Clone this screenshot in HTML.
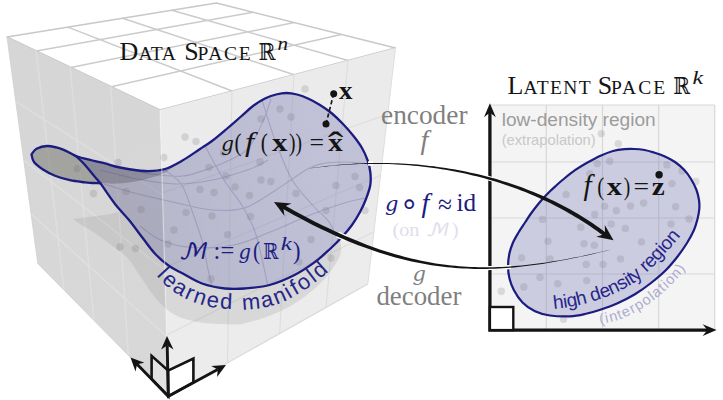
<!DOCTYPE html>
<html><head><meta charset="utf-8"><title>Data space and latent space</title>
<style>html,body{margin:0;padding:0;background:#fff}svg{display:block}text{white-space:pre}</style></head>
<body>
<svg width="723" height="400" viewBox="0 0 723 400">
<rect width="723" height="400" fill="#fff"/>
<defs>
<linearGradient id="gl" gradientUnits="userSpaceOnUse" x1="60" y1="80" x2="140" y2="370"><stop offset="0" stop-color="#d6d6d6"/><stop offset="1" stop-color="#d8d8d8"/></linearGradient>
<linearGradient id="gr" gradientUnits="userSpaceOnUse" x1="290" y1="80" x2="255" y2="350"><stop offset="0" stop-color="#ebebeb"/><stop offset="1" stop-color="#ececec"/></linearGradient>
<radialGradient id="fadeC" gradientUnits="userSpaceOnUse" cx="168.5" cy="398" r="38"><stop offset="0" stop-color="#fff" stop-opacity="0.8"/><stop offset="0.4" stop-color="#fff" stop-opacity="0.55"/><stop offset="1" stop-color="#fff" stop-opacity="0"/></radialGradient>
<linearGradient id="gm" gradientUnits="userSpaceOnUse" x1="110" y1="230" x2="350" y2="150"><stop offset="0.1" stop-color="#646490" stop-opacity="0.39"/><stop offset="0.35" stop-color="#6f6fa4" stop-opacity="0.40"/><stop offset="0.9" stop-color="#7171b0" stop-opacity="0.35"/></linearGradient>
</defs>
<polygon points="7,37 160,110 395.5,48 216.5,3" fill="#ffffff"/>
<path d="M36.4,51.1L253,12.2M67.9,27.1L232,91M70.8,67.4L294.3,22.6M122.5,18.2L294,74.7M111.4,86.8L341.3,34.4M171.8,10.3L348.1,60.5" fill="none" stroke="#cbcbcb" stroke-width="1.5"/>
<polygon points="7,37 160,110 395.5,48 216.5,3" fill="none" stroke="#c8c8c8" stroke-width="1.5" stroke-linejoin="round"/>
<polygon points="7,37 160,110 168.5,396 37.8,263.5" fill="url(#gl)"/>
<polygon points="160,110 395.5,48 367.8,284 168.5,396" fill="url(#gr)"/>
<path d="M36.1,50.9L64,290M15.7,101.3L162.5,195M70.2,67.2L93.9,320.3M23.7,160.1L164.8,270M110.8,86.5L128.3,355.3M31.1,213.9L166.7,336.5" fill="none" stroke="#ffffff" stroke-opacity="0.2" stroke-width="1.5"/>
<path d="M231.9,91.1L227.5,362.9M162.5,193L387.7,114.3M294,74.7L279.6,333.6M164.7,267.5L380.6,175.3M348,60.5L326.1,307.4M166.7,334.9L373.9,231.7" fill="none" stroke="#d2d2d2" stroke-opacity="0.55" stroke-width="1.1"/>
<path d="M7,37L37.8,263.5" fill="none" stroke="#cfcfcf" stroke-width="1" stroke-opacity="0.8"/>
<path d="M395.5,48L367.8,284" fill="none" stroke="#dcdcdc" stroke-width="1" stroke-opacity="0.9"/>
<path d="M37.8,263.5L168.5,396" fill="none" stroke="#cdcdcd" stroke-width="1" stroke-opacity="0.8"/>
<path d="M367.8,284L168.5,396" fill="none" stroke="#d6d6d6" stroke-width="1.2" stroke-opacity="0.9"/>
<clipPath id="cl"><polygon points="7,37 160,110 168.5,396 37.8,263.5"/></clipPath><clipPath id="cr"><polygon points="160,110 395.5,48 367.8,284 168.5,396"/></clipPath>
<path d="M73,219C76.2,218.6 85.8,217.3 92,216.5C98.2,215.7 105.2,214.9 110,214C114.8,213.1 119.2,211.5 121,211L121.5,211C122.8,212.5 125.5,215.5 129,220C132.5,224.5 138.2,232.2 142.5,237.8C146.8,243.3 150.4,248.8 154.8,253.5C159.1,258.2 164.1,262.4 168.8,265.8C173.4,269.1 177.2,270.6 182.8,273.6C188.3,276.6 195,281 202,283.5C209,286 217.8,287.7 225,288.5C232.2,289.3 237.6,289.1 245,288.5C252.4,287.9 261.4,287.2 269.6,285C277.9,282.8 287,278.8 294.5,275C302,271.2 308.1,267 314.4,262.4C320.6,257.8 327.7,251.4 332,247.5C336.3,243.6 338.7,240.4 340,239L340,239C340.2,241.2 341.8,247.7 341,252C340.2,256.3 337.8,260.5 335,265C332.2,269.5 328.2,274.8 324.5,279C320.8,283.2 317.1,286.5 313,290C308.9,293.5 305,296.7 300,300C295,303.3 288.8,307.1 283,310C277.2,312.9 270.5,315.5 265,317.5C259.5,319.5 254.2,320.8 250,322C245.8,323.2 241.7,324.1 240,324.5L240,324.5C236.3,324.4 225.3,324.5 218,324C210.7,323.5 203,323.1 196,321.7C189,320.3 182.3,318.9 176,315.5C169.7,312.1 164,307.6 158,301C152,294.4 145.1,283.2 140,276C134.9,268.8 133.3,263.9 127.5,258C121.7,252.1 110.8,244.9 105,240.5C99.2,236.1 96.7,234.2 92.5,231.5C88.3,228.8 83.2,226.1 80,224C76.8,221.9 74.2,219.8 73,219Z" fill="#000" fill-opacity="0.068" clip-path="url(#cl)"/>
<path d="M73,219C76.2,218.6 85.8,217.3 92,216.5C98.2,215.7 105.2,214.9 110,214C114.8,213.1 119.2,211.5 121,211L121.5,211C122.8,212.5 125.5,215.5 129,220C132.5,224.5 138.2,232.2 142.5,237.8C146.8,243.3 150.4,248.8 154.8,253.5C159.1,258.2 164.1,262.4 168.8,265.8C173.4,269.1 177.2,270.6 182.8,273.6C188.3,276.6 195,281 202,283.5C209,286 217.8,287.7 225,288.5C232.2,289.3 237.6,289.1 245,288.5C252.4,287.9 261.4,287.2 269.6,285C277.9,282.8 287,278.8 294.5,275C302,271.2 308.1,267 314.4,262.4C320.6,257.8 327.7,251.4 332,247.5C336.3,243.6 338.7,240.4 340,239L340,239C340.2,241.2 341.8,247.7 341,252C340.2,256.3 337.8,260.5 335,265C332.2,269.5 328.2,274.8 324.5,279C320.8,283.2 317.1,286.5 313,290C308.9,293.5 305,296.7 300,300C295,303.3 288.8,307.1 283,310C277.2,312.9 270.5,315.5 265,317.5C259.5,319.5 254.2,320.8 250,322C245.8,323.2 241.7,324.1 240,324.5L240,324.5C236.3,324.4 225.3,324.5 218,324C210.7,323.5 203,323.1 196,321.7C189,320.3 182.3,318.9 176,315.5C169.7,312.1 164,307.6 158,301C152,294.4 145.1,283.2 140,276C134.9,268.8 133.3,263.9 127.5,258C121.7,252.1 110.8,244.9 105,240.5C99.2,236.1 96.7,234.2 92.5,231.5C88.3,228.8 83.2,226.1 80,224C76.8,221.9 74.2,219.8 73,219Z" fill="#000" fill-opacity="0.082" clip-path="url(#cr)"/>
<clipPath id="cm"><path d="M31.5,154.5C32.3,153.5 33.8,150.1 36.5,148.7C39.2,147.3 43.2,145.9 47.5,146C51.8,146.1 57.8,147.6 62.5,149.3C67.2,151 71,154.1 76,156C81,157.9 87.7,159.3 92.5,160.5C97.3,161.7 100.4,162.2 105,163.4C109.6,164.6 113.3,166.2 120,167.5C126.7,168.8 137.5,170.8 145,171C152.5,171.2 158.8,170.8 165,169C171.2,167.2 176.7,163.8 182.5,160.5C188.3,157.2 195.1,152.2 200,149C204.9,145.8 207.7,144.2 212,141C216.3,137.8 221.2,133.6 226,129.5C230.8,125.4 236.5,120.4 241,116.5C245.5,112.6 249,109 253,106C257,103 261.2,100.4 265,98.5C268.8,96.6 272.4,95.4 276,94.5C279.6,93.6 283,93 286.5,93C290,93 293.4,93.6 297,94.5C300.6,95.4 304.2,96.8 308,98.5C311.8,100.2 316,102.5 320,105C324,107.5 328.2,110.3 332,113.5C335.8,116.7 339.4,120.2 343,124C346.6,127.8 350.3,132 353.5,136C356.7,140 359.7,144 362,148C364.3,152 366.1,156 367.5,160C368.9,164 369.8,167.8 370.3,172C370.8,176.2 371,180.5 370.3,185C369.6,189.5 367.7,194.5 366,199C364.3,203.5 362.3,207.7 360,212C357.7,216.3 355,220.8 352,225C349,229.2 345.7,233 342,237C338.3,241 334.6,244.8 330,249C325.4,253.2 320.3,258.1 314.4,262.4C308.5,266.7 302,271.2 294.5,275C287,278.8 277.9,282.8 269.6,285C261.4,287.2 252.4,287.9 245,288.5C237.6,289.1 232.2,289.3 225,288.5C217.8,287.7 209,286 202,283.5C195,281 188.3,276.6 182.8,273.6C177.2,270.6 173.4,269.1 168.8,265.8C164.1,262.4 159.1,258.2 154.8,253.5C150.4,248.8 146.8,243.3 142.5,237.8C138.2,232.2 133.6,225.6 129,220C124.4,214.4 119.8,210.1 115,204C110.2,197.9 102.9,186.8 100.5,183.3L100.5,183.3C99.1,183.2 94.6,183.2 92,183C89.4,182.8 88.7,182.9 85,182.4C81.3,181.9 75,181.3 70,180.2C65,179.1 59.5,177.5 55,175.7C50.5,173.9 46.5,171.8 43,169.5C39.5,167.2 35.9,164.5 34,162C32.1,159.5 31.9,155.8 31.5,154.5Z"/></clipPath>
<path d="M31.5,154.5C32.3,153.5 33.8,150.1 36.5,148.7C39.2,147.3 43.2,145.9 47.5,146C51.8,146.1 57.8,147.6 62.5,149.3C67.2,151 71,154.1 76,156C81,157.9 87.7,159.3 92.5,160.5C97.3,161.7 100.4,162.2 105,163.4C109.6,164.6 113.3,166.2 120,167.5C126.7,168.8 137.5,170.8 145,171C152.5,171.2 159.5,170.3 165,169C170.5,167.7 175.8,164 178,163L178,163C175.8,164.6 169.7,170 165,172.5C160.3,175 155,176.5 150,178C145,179.5 140.3,180.6 135,181.5C129.7,182.4 123.8,183.3 118,183.6C112.2,183.9 103.4,183.4 100.5,183.3L100.5,183.3C99.1,183.2 94.6,183.2 92,183C89.4,182.8 88.7,182.9 85,182.4C81.3,181.9 75,181.3 70,180.2C65,179.1 59.5,177.5 55,175.7C50.5,173.9 46.5,171.8 43,169.5C39.5,167.2 35.9,164.5 34,162C32.1,159.5 31.9,155.8 31.5,154.5Z" fill="#70706a" fill-opacity="0.50"/>
<path d="M74.5,155.3C74.8,155.4 73,155.1 76,156C79,156.9 87.7,159.3 92.5,160.5C97.3,161.7 100.4,162.2 105,163.4C109.6,164.6 113.3,166.2 120,167.5C126.7,168.8 137.5,170.8 145,171C152.5,171.2 158.8,170.8 165,169C171.2,167.2 176.7,163.8 182.5,160.5C188.3,157.2 195.1,152.2 200,149C204.9,145.8 207.7,144.2 212,141C216.3,137.8 221.2,133.6 226,129.5C230.8,125.4 236.5,120.4 241,116.5C245.5,112.6 249,109 253,106C257,103 261.2,100.4 265,98.5C268.8,96.6 272.4,95.4 276,94.5C279.6,93.6 283,93 286.5,93C290,93 293.4,93.6 297,94.5C300.6,95.4 304.2,96.8 308,98.5C311.8,100.2 316,102.5 320,105C324,107.5 328.2,110.3 332,113.5C335.8,116.7 339.4,120.2 343,124C346.6,127.8 350.3,132 353.5,136C356.7,140 359.7,144 362,148C364.3,152 366.1,156 367.5,160C368.9,164 369.8,167.8 370.3,172C370.8,176.2 371,180.5 370.3,185C369.6,189.5 367.7,194.5 366,199C364.3,203.5 362.3,207.7 360,212C357.7,216.3 355,220.8 352,225C349,229.2 345.7,233 342,237C338.3,241 334.6,244.8 330,249C325.4,253.2 320.3,258.1 314.4,262.4C308.5,266.7 302,271.2 294.5,275C287,278.8 277.9,282.8 269.6,285C261.4,287.2 252.4,287.9 245,288.5C237.6,289.1 232.2,289.3 225,288.5C217.8,287.7 209,286 202,283.5C195,281 188.3,276.6 182.8,273.6C177.2,270.6 173.4,269.1 168.8,265.8C164.1,262.4 159.1,258.2 154.8,253.5C150.4,248.8 146.8,243.3 142.5,237.8C138.2,232.2 133.6,225.6 129,220C124.4,214.4 119.8,210.1 115,204C110.2,197.9 102.9,186.8 100.5,183.3L100.5,183.3C99.2,181.8 95.1,177.1 92.5,174C89.9,170.9 87.4,167.7 85,165C82.6,162.3 79.8,159.6 78,158C76.2,156.4 75.1,155.8 74.5,155.3Z" fill="url(#gm)"/>
<g clip-path="url(#cm)"><path d="M118,167C123.7,168.2 141.2,172.5 152,174C162.8,175.5 173.7,176.7 182.5,176C191.3,175.3 196.4,173 205,170C213.6,167 226.5,162 234,158C241.5,154 245.2,152.1 250,146C254.8,139.9 259.5,129.3 263,121.5C266.5,113.7 269.7,102.8 271,99M100,170C106.2,171.5 125,176.7 137.5,179C150,181.3 162.5,183.8 175,184C187.5,184.2 200,182.5 212.5,180C225,177.5 240.8,172.3 250,169C259.2,165.7 265,161.5 268,160M104,184C108.8,185.4 120.7,189.4 132.5,192.5C144.3,195.6 161.6,199.6 175,202.5C188.4,205.4 201.4,209.1 213,210C224.6,210.9 234,211.3 244.5,208C255,204.7 265.5,196.5 276,190C286.5,183.5 299.7,173.4 307.5,169C315.3,164.6 316.8,164.7 323,163.5C329.2,162.3 337,161.9 345,162C353,162.1 366.7,163.7 371,164M140,226C143.4,228.3 151.8,236.4 160.5,240C169.2,243.6 179.8,246.7 192,247.5C204.2,248.3 220.9,247.6 234,245C247.1,242.4 258.6,236.6 270.8,231.8C283.1,227 295.2,220.8 307.5,216C319.8,211.2 334.2,206.1 344.3,203C354.4,199.9 364.1,198.6 368,197.7M205,146C208.1,151.6 217.3,169.4 223.5,179.3C229.7,189.2 236.8,196.8 242,205.5C247.2,214.2 251.5,222.2 255,231.8C258.5,241.4 260.8,254.1 263,263.3C265.2,272.5 267.2,283.1 268,287M262,100C264.2,106.7 270,126.8 275,140C280,153.2 285.5,168.4 291.8,179.3C298.1,190.2 306.7,198.5 312.8,205.5C318.9,212.5 324.7,216.1 328.6,221.3C332.5,226.6 334.3,233.4 336.4,237C338.5,240.6 340.2,242 341,243M165,170C167.8,172.4 177,177.7 181.5,184.5C186,191.3 188.5,201.2 192,210.8C195.5,220.4 199.9,232.7 202.5,242.3C205.1,251.9 206.2,261.3 207.8,268.6C209.4,275.9 211.3,283.1 212,286" fill="none" stroke="#34347a" stroke-opacity="0.2" stroke-width="1.1"/></g>
<g fill="#6a6a72" fill-opacity="0.20"><circle cx="77.3" cy="168.6" r="3.7"/><circle cx="93.5" cy="193.5" r="3.7"/><circle cx="185" cy="137" r="3.7"/><circle cx="196" cy="141.5" r="3.7"/><circle cx="163.8" cy="157.5" r="3.7"/><circle cx="118" cy="162.5" r="3.7"/><circle cx="209" cy="167.5" r="3.7"/><circle cx="226" cy="176" r="3.7"/><circle cx="235" cy="187" r="3.7"/><circle cx="200" cy="189.5" r="3.7"/><circle cx="214" cy="192.5" r="3.7"/><circle cx="126" cy="191.5" r="3.7"/><circle cx="186" cy="212.5" r="3.7"/><circle cx="212" cy="216" r="3.7"/><circle cx="141" cy="209.5" r="3.7"/><circle cx="249.5" cy="195.5" r="3.7"/><circle cx="223.5" cy="153" r="3.7"/><circle cx="260" cy="162" r="3.7"/><circle cx="261" cy="180" r="3.7"/><circle cx="270.8" cy="181.5" r="3.7"/><circle cx="296" cy="193.5" r="3.7"/><circle cx="336" cy="185.5" r="3.7"/><circle cx="355" cy="176.5" r="3.7"/><circle cx="359.5" cy="187.5" r="3.7"/><circle cx="326" cy="210.5" r="3.7"/><circle cx="365" cy="210.5" r="3.7"/><circle cx="250.5" cy="216.5" r="3.7"/><circle cx="311" cy="239.5" r="3.7"/><circle cx="280" cy="109" r="3.7"/><circle cx="261" cy="119" r="3.7"/><circle cx="291" cy="117" r="3.7"/><circle cx="305" cy="89" r="3.7"/><circle cx="174" cy="230" r="3.7"/><circle cx="168" cy="244" r="3.7"/><circle cx="227.6" cy="234.8" r="3.7"/><circle cx="211" cy="279" r="3.7"/><circle cx="299" cy="262" r="3.7"/><circle cx="120" cy="247" r="3.7"/><circle cx="135.5" cy="248.5" r="3.7"/><circle cx="331" cy="258" r="3.7"/></g>
<path d="M31.5,154.5C32.3,153.5 33.8,150.1 36.5,148.7C39.2,147.3 43.2,145.9 47.5,146C51.8,146.1 57.8,147.6 62.5,149.3C67.2,151 71,154.1 76,156C81,157.9 87.7,159.3 92.5,160.5C97.3,161.7 100.4,162.2 105,163.4C109.6,164.6 113.3,166.2 120,167.5C126.7,168.8 137.5,170.8 145,171C152.5,171.2 158.8,170.8 165,169C171.2,167.2 176.7,163.8 182.5,160.5C188.3,157.2 195.1,152.2 200,149C204.9,145.8 207.7,144.2 212,141C216.3,137.8 221.2,133.6 226,129.5C230.8,125.4 236.5,120.4 241,116.5C245.5,112.6 249,109 253,106C257,103 261.2,100.4 265,98.5C268.8,96.6 272.4,95.4 276,94.5C279.6,93.6 283,93 286.5,93C290,93 293.4,93.6 297,94.5C300.6,95.4 304.2,96.8 308,98.5C311.8,100.2 316,102.5 320,105C324,107.5 328.2,110.3 332,113.5C335.8,116.7 339.4,120.2 343,124C346.6,127.8 350.3,132 353.5,136C356.7,140 359.7,144 362,148C364.3,152 366.1,156 367.5,160C368.9,164 369.8,167.8 370.3,172C370.8,176.2 371,180.5 370.3,185C369.6,189.5 367.7,194.5 366,199C364.3,203.5 362.3,207.7 360,212C357.7,216.3 355,220.8 352,225C349,229.2 345.7,233 342,237C338.3,241 334.6,244.8 330,249C325.4,253.2 320.3,258.1 314.4,262.4C308.5,266.7 302,271.2 294.5,275C287,278.8 277.9,282.8 269.6,285C261.4,287.2 252.4,287.9 245,288.5C237.6,289.1 232.2,289.3 225,288.5C217.8,287.7 209,286 202,283.5C195,281 188.3,276.6 182.8,273.6C177.2,270.6 173.4,269.1 168.8,265.8C164.1,262.4 159.1,258.2 154.8,253.5C150.4,248.8 146.8,243.3 142.5,237.8C138.2,232.2 133.6,225.6 129,220C124.4,214.4 119.8,210.1 115,204C110.2,197.9 102.9,186.8 100.5,183.3L100.5,183.3C99.1,183.2 94.6,183.2 92,183C89.4,182.8 88.7,182.9 85,182.4C81.3,181.9 75,181.3 70,180.2C65,179.1 59.5,177.5 55,175.7C50.5,173.9 46.5,171.8 43,169.5C39.5,167.2 35.9,164.5 34,162C32.1,159.5 31.9,155.8 31.5,154.5Z" fill="none" stroke="#1b1b80" stroke-width="2.3" stroke-linejoin="round"/>
<path d="M100.5,183.3C99.2,181.8 95.1,177.1 92.5,174C89.9,170.9 87.4,167.7 85,165C82.6,162.3 79.8,159.6 78,158C76.2,156.4 75.1,155.8 74.5,155.3" fill="none" stroke="#1b1b80" stroke-width="2.3" stroke-linecap="round"/>
<path d="M160,110L168.5,396" fill="none" stroke="#f6f6f6" stroke-width="1.2" stroke-opacity="0.5"/>
<polygon points="168.3,396.3 151.6,379 151.6,355.8 168.1,370.5" fill="#e2e2e2" stroke="#141414" stroke-width="2.6" stroke-linejoin="miter"/>
<polygon points="168.3,396.3 193.4,382.3 193.4,358.6 168.1,370.5" fill="#ffffff" stroke="#141414" stroke-width="2.6" stroke-linejoin="miter"/>
<path d="M168.3,396.3L167.2,345.4" stroke="#141414" stroke-width="2.9" fill="none"/><path d="M167,336L173.5,349.4L167.2,345.4L161.1,349.6Z" fill="#141414"/>
<path d="M168.3,396.3L137.1,364.3" stroke="#141414" stroke-width="2.9" fill="none"/><path d="M130.5,357.5L144.4,362.8L137.1,364.3L135.5,371.5Z" fill="#141414"/>
<path d="M168.3,396.3L217.7,369.5" stroke="#141414" stroke-width="2.9" fill="none"/><path d="M226,365L217.1,376.9L217.7,369.5L211.2,366Z" fill="#141414"/>
<rect x="490.5" y="105" width="224.2" height="224.5" fill="#f4f4f4"/>
<path d="M546.3,105L546.3,329.5M602.5,105L602.5,329.5M658.7,105L658.7,329.5M714.7,105L714.7,329.5M490.5,105L714.7,105M490.5,162L714.7,162M490.5,218L714.7,218M490.5,274L714.7,274" fill="none" stroke="#d8d8d8" stroke-width="1.2"/>
<path d="M508,266.5C508,262.4 508.5,257.9 509.3,254C510.1,250.1 511.3,246.6 512.8,243C514.3,239.4 516.5,235.9 518.5,232.5C520.5,229.1 522.9,225.7 525,222.5C527.1,219.3 528.9,216.4 531,213.5C533.1,210.6 535.4,207.6 537.5,205C539.6,202.4 541.4,200.3 543.5,198C545.6,195.7 547.9,193.4 550,191.3C552.1,189.2 553.9,187.6 556,185.7C558.1,183.8 559.3,182.6 562.5,180C565.7,177.4 570.8,173.1 575,170.2C579.2,167.3 583.2,164.9 587.5,162.5C591.8,160.1 596.2,157.6 600.5,155.7C604.8,153.8 609,152.1 613,151C617,149.9 621.1,149.5 624.6,149.2C628.1,148.9 630.7,148.9 634,149C637.3,149.1 641.2,149.4 644.5,150C647.8,150.6 650.7,151.5 654,152.5C657.3,153.5 660.9,154.6 664.4,156.2C667.9,157.8 671.7,159.7 675,162C678.3,164.3 681.6,167.2 684.3,170C687,172.8 689,175.7 691,179C693,182.3 695.2,186.5 696.5,190C697.8,193.5 698.5,196.8 699,200C699.5,203.2 699.5,205.8 699.3,209C699,212.2 698.4,215.5 697.5,219C696.6,222.5 695.8,226 694,230C692.2,234 689.7,238.7 687,243C684.3,247.3 681.5,251.5 678,256C674.5,260.5 670.5,265.5 666,270C661.5,274.5 656.2,278.9 651,283C645.8,287.1 640.2,291.1 634.5,294.5C628.8,297.9 622.8,300.9 617,303.5C611.2,306.1 604.8,308.2 599.5,310C594.2,311.8 589.9,312.9 585,314C580.1,315.1 575.8,316.1 570,316.3C564.2,316.6 555.8,316.3 550,315.5C544.2,314.7 539.6,313.5 535,311.3C530.4,309.1 526,306.1 522.5,302.5C519,298.9 515.9,294 513.8,290C511.6,286 510.5,282.4 509.5,278.5C508.5,274.6 508,270.6 508,266.5Z" fill="#7272b4" fill-opacity="0.30"/>
<g fill="#6a6a72" fill-opacity="0.20"><circle cx="601.3" cy="133.6" r="3.7"/><circle cx="618.3" cy="143.7" r="3.7"/><circle cx="597.2" cy="163.6" r="3.7"/><circle cx="609.7" cy="161.2" r="3.7"/><circle cx="589.7" cy="173.6" r="3.7"/><circle cx="666.9" cy="164.9" r="3.7"/><circle cx="671.9" cy="183.6" r="3.7"/><circle cx="682" cy="171" r="3.7"/><circle cx="695.9" cy="181.5" r="3.7"/><circle cx="566.1" cy="194.4" r="3.7"/><circle cx="604.6" cy="206.3" r="3.7"/><circle cx="616.3" cy="210.7" r="3.7"/><circle cx="630.5" cy="206" r="3.7"/><circle cx="643.6" cy="203" r="3.7"/><circle cx="675.6" cy="206.7" r="3.7"/><circle cx="594.7" cy="214.5" r="3.7"/><circle cx="542.5" cy="219.4" r="3.7"/><circle cx="580.8" cy="227.3" r="3.7"/><circle cx="611.2" cy="223.9" r="3.7"/><circle cx="625.3" cy="228.4" r="3.7"/><circle cx="641.5" cy="241.9" r="3.7"/><circle cx="548" cy="241.2" r="3.7"/><circle cx="584" cy="243.7" r="3.7"/><circle cx="594.3" cy="245.3" r="3.7"/><circle cx="521.6" cy="257.8" r="3.7"/><circle cx="550" cy="258.9" r="3.7"/><circle cx="586.2" cy="264.4" r="3.7"/><circle cx="603" cy="264.4" r="3.7"/><circle cx="620.5" cy="258.9" r="3.7"/><circle cx="540" cy="277.4" r="3.7"/><circle cx="523.8" cy="287" r="3.7"/><circle cx="557.7" cy="283.8" r="3.7"/><circle cx="586.7" cy="280.6" r="3.7"/><circle cx="501.3" cy="291.2" r="3.7"/><circle cx="563.5" cy="319.3" r="3.7"/><circle cx="671" cy="224" r="3.7"/><circle cx="689" cy="219" r="3.7"/></g>
<path d="M508,266.5C508,262.4 508.5,257.9 509.3,254C510.1,250.1 511.3,246.6 512.8,243C514.3,239.4 516.5,235.9 518.5,232.5C520.5,229.1 522.9,225.7 525,222.5C527.1,219.3 528.9,216.4 531,213.5C533.1,210.6 535.4,207.6 537.5,205C539.6,202.4 541.4,200.3 543.5,198C545.6,195.7 547.9,193.4 550,191.3C552.1,189.2 553.9,187.6 556,185.7C558.1,183.8 559.3,182.6 562.5,180C565.7,177.4 570.8,173.1 575,170.2C579.2,167.3 583.2,164.9 587.5,162.5C591.8,160.1 596.2,157.6 600.5,155.7C604.8,153.8 609,152.1 613,151C617,149.9 621.1,149.5 624.6,149.2C628.1,148.9 630.7,148.9 634,149C637.3,149.1 641.2,149.4 644.5,150C647.8,150.6 650.7,151.5 654,152.5C657.3,153.5 660.9,154.6 664.4,156.2C667.9,157.8 671.7,159.7 675,162C678.3,164.3 681.6,167.2 684.3,170C687,172.8 689,175.7 691,179C693,182.3 695.2,186.5 696.5,190C697.8,193.5 698.5,196.8 699,200C699.5,203.2 699.5,205.8 699.3,209C699,212.2 698.4,215.5 697.5,219C696.6,222.5 695.8,226 694,230C692.2,234 689.7,238.7 687,243C684.3,247.3 681.5,251.5 678,256C674.5,260.5 670.5,265.5 666,270C661.5,274.5 656.2,278.9 651,283C645.8,287.1 640.2,291.1 634.5,294.5C628.8,297.9 622.8,300.9 617,303.5C611.2,306.1 604.8,308.2 599.5,310C594.2,311.8 589.9,312.9 585,314C580.1,315.1 575.8,316.1 570,316.3C564.2,316.6 555.8,316.3 550,315.5C544.2,314.7 539.6,313.5 535,311.3C530.4,309.1 526,306.1 522.5,302.5C519,298.9 515.9,294 513.8,290C511.6,286 510.5,282.4 509.5,278.5C508.5,274.6 508,270.6 508,266.5Z" fill="none" stroke="#1b1b80" stroke-width="2.2"/>
<path d="M489.9,112V330.1H708" fill="none" stroke="#141414" stroke-width="3.3" stroke-linejoin="miter"/>
<path d="M489.9,103.3L495.8,117.3L489.9,112.5L484,117.3Z" fill="#141414"/>
<path d="M716.6,330.1L702.6,336L707.4,330.1L702.6,324.2Z" fill="#141414"/>
<rect x="489.9" y="307" width="23.4" height="23.1" fill="#fff" stroke="#141414" stroke-width="2.4"/>
<path d="M368,163.5L368.6,163.5L369.1,163.5L369.7,163.5L370.2,163.5L370.8,163.5L371.3,163.5L371.9,163.5L372.4,163.5L373,163.5M487.6,178L488.1,178.1L488.6,178.2L489.1,178.4L489.6,178.5L490.1,178.7L490.6,178.8L491.1,178.9L491.6,179.1L492.1,179.2L492.6,179.4L493,179.5" fill="none" stroke="#fff" stroke-width="4.6"/>
<path d="M309,168.6L313.3,168L317.5,167.4L321.8,166.9L326,166.4L330.2,166L334.5,165.6L338.7,165.3L342.9,164.9L347.1,164.7L351.3,164.4L355.6,164.2L359.7,164.1L363.9,164L368.1,163.9L372.3,163.9L376.5,163.9L380.6,163.9L384.7,164L388.9,164.1L393,164.3L397.1,164.5L401.2,164.7L405.3,165L409.4,165.3L413.5,165.7L417.5,166L421.6,166.5L425.6,166.9L429.6,167.4L433.6,168L437.6,168.5L441.6,169.2L445.6,169.8L449.5,170.5L453.4,171.2L457.3,172L461.2,172.8L465.1,173.6L469,174.5L472.8,175.4L476.7,176.3L480.5,177.3L484.3,178.3L488.1,179.4L491.8,180.5L495.5,181.6L499.3,182.7L503,183.9L506.6,185.2L510.3,186.4L513.9,187.7L517.5,189.1L521.1,190.4L524.7,191.8L528.2,193.3L531.8,194.7L535.3,196.2L538.7,197.8L542.2,199.4L545.6,201L549,202.6L552.4,204.3L555.7,206L559.1,207.7L562.4,209.5L565.6,211.3L568.9,213.2L572.1,215L575.3,216.9L578.5,218.8L581.6,220.8L584.8,222.8L587.9,224.8L590.9,226.8L594,228.9L597,231L599.9,233.2L602.9,235.3L605.8,237.6L608.2,234.4L605.2,232.2L602.2,230L599.2,227.8L596.2,225.7L593.1,223.6L590,221.5L586.9,219.5L583.7,217.5L580.5,215.5L577.3,213.6L574.1,211.7L570.8,209.8L567.5,208L564.1,206.2L560.8,204.5L557.4,202.8L554,201.1L550.5,199.4L547.1,197.8L543.6,196.3L540.1,194.7L536.5,193.3L533,191.8L529.4,190.4L525.8,189L522.2,187.6L518.5,186.3L514.9,185L511.2,183.8L507.5,182.5L503.8,181.4L500,180.2L496.3,179.1L492.5,178L488.7,177L484.9,176L481.1,175L477.2,174.1L473.3,173.2L469.5,172.4L465.6,171.6L461.7,170.8L457.7,170L453.8,169.3L449.8,168.7L445.8,168L441.9,167.4L437.9,166.9L433.8,166.3L429.8,165.9L425.8,165.4L421.7,165L417.7,164.6L413.6,164.3L409.5,164L405.4,163.7L401.3,163.5L397.2,163.3L393.1,163.2L388.9,163.1L384.8,163L380.6,163L376.5,163L372.3,163.1L368.1,163.1L363.9,163.3L359.7,163.4L355.5,163.6L351.3,163.9L347.1,164.2L342.9,164.5L338.7,164.8L334.4,165.2L330.2,165.7L326,166.1L321.7,166.7L317.5,167.2L313.2,167.8L309,168.4Z" fill="#141414"/>
<path d="M613.5,240.3L596.3,236.7L605,234.1L604.8,225.1Z" fill="#141414"/>
<path d="M493.3,267.9L492.8,268L492.3,268L491.7,268L491.2,268L490.7,268L490.2,268L489.7,268L489.2,268L488.7,268.1L488.1,268.1L487.6,268.1M511,267L510.5,267L509.9,267.1L509.4,267.1L508.9,267.2L508.4,267.2L507.9,267.2L507.3,267.3L506.8,267.3L506.3,267.3" fill="none" stroke="#fff" stroke-width="4.2"/>
<path d="M345.7,238.1L345.1,237.9L344.5,237.6L343.9,237.4L343.4,237.1L342.8,236.9L342.2,236.6L341.6,236.4L341,236.1L340.5,235.8L339.9,235.6L339.3,235.3L338.7,235.1L338.1,234.8L337.5,234.5" fill="none" stroke="#fff" stroke-width="6.4"/>
<path d="M611.5,249.4L606.9,250.5L602.3,251.6L597.8,252.6L593.4,253.6L588.9,254.6L584.5,255.5L580.2,256.4L575.8,257.3L571.5,258.1L567.2,258.9L563,259.7L558.8,260.4L554.6,261.1L550.4,261.8L546.3,262.4L542.1,263L538,263.6L534,264.1L529.9,264.6L525.9,265L521.9,265.5L517.9,265.8L513.9,266.1L509.9,266.4L506,266.7L502,266.9L498.1,267L494.2,267.2L490.2,267.2L486.3,267.3L482.4,267.2L478.5,267.2L474.7,267.1L470.8,266.9L466.9,266.7L463,266.5L459.1,266.2L455.3,265.8L451.4,265.5L447.5,265L443.6,264.5L439.7,264L435.8,263.4L431.9,262.7L428,262L424,261.3L420.1,260.5L416.1,259.6L412.2,258.7L408.2,257.7L404.2,256.7L400.2,255.6L396.2,254.5L392.1,253.3L388,252L383.9,250.7L379.8,249.4L375.7,247.9L371.5,246.4L367.3,244.9L363.1,243.3L358.9,241.6L354.6,239.8L350.3,238L345.9,236.2L341.6,234.2L337.1,232.2L332.7,230.2L328.2,228.1L323.7,225.9L319.1,223.7L314.5,221.4L309.8,219L305.1,216.6L300.4,214.1L295.6,211.5L290.8,208.8L285.9,206.1L281,203.3L279,206.7L284,209.5L288.9,212.2L293.7,214.9L298.6,217.5L303.3,220L308,222.5L312.7,224.9L317.4,227.2L322,229.4L326.5,231.6L331.1,233.7L335.5,235.8L340,237.7L344.4,239.6L348.8,241.5L353.2,243.2L357.5,244.9L361.9,246.5L366.1,248.1L370.4,249.6L374.6,251.1L378.8,252.4L383,253.8L387.1,255L391.2,256.2L395.3,257.4L399.4,258.5L403.5,259.5L407.5,260.5L411.6,261.4L415.6,262.3L419.6,263.1L423.6,263.8L427.5,264.5L431.5,265.2L435.4,265.7L439.4,266.3L443.3,266.8L447.2,267.2L451.2,267.6L455.1,267.9L459,268.2L462.9,268.5L466.8,268.6L470.7,268.8L474.6,268.9L478.5,268.9L482.4,268.9L486.4,268.9L490.3,268.8L494.2,268.7L498.1,268.5L502.1,268.3L506,268L510,267.7L514,267.4L518,267L522,266.6L526,266.1L530,265.6L534.1,265.1L538.2,264.5L542.3,263.9L546.4,263.2L550.5,262.6L554.7,261.8L558.9,261.1L563.1,260.3L567.3,259.5L571.6,258.6L575.9,257.7L580.2,256.8L584.6,255.9L589,254.9L593.4,253.9L597.9,252.8L602.4,251.8L606.9,250.7L611.5,249.6Z" fill="#141414"/>
<path d="M274,202L291.5,203.5L283.2,207.1L284.5,216.1Z" fill="#141414"/>
<path id="tp1" d="M150,268C151.1,269.4 153.7,273 156.8,276.3C159.9,279.6 164.6,284.8 168.5,288C172.4,291.2 176.8,293.6 180.5,295.8C184.2,298 187.4,299.5 191,301C194.6,302.5 198.1,303.8 202,304.9C205.9,306 210.3,307 214.4,307.6C218.5,308.2 220.7,308.5 226.3,308.8C231.9,309.1 241.6,309.6 247.8,309.4C254,309.2 258.6,308.5 263.5,307.6C268.4,306.7 273.4,305.3 277.5,304C281.6,302.7 285.1,301.1 288,299.7C290.9,298.3 292.1,297.4 295,295.8C297.9,294.2 302,292 305.3,289.8C308.6,287.6 311.7,285.2 315,282.6C318.3,280.1 322,277.3 325.2,274.5C328.4,271.7 331.2,269.1 334,266C336.8,262.9 340.7,257.7 342,256" fill="none"/>
<path id="tp2" d="M549,309.5C550.1,309.4 552,309.3 555.5,308.9C559,308.5 564.7,307.9 570,306.9C575.3,305.9 580.7,305 587.5,303C594.3,301 603.4,298.2 611,295C618.6,291.8 627.8,286.7 633,283.6C638.2,280.5 638.9,279.2 642.3,276.3C645.7,273.4 649.5,270.1 653.3,266.2C657.1,262.3 661,258 665.3,253.2C669.6,248.4 675,242.8 679.3,237.4C683.6,232 689,223.7 691,221" fill="none"/>
<path id="tp3" d="M596,325C596.8,324.8 596.8,325 601,324C605.2,323 614.3,321.5 621,319C627.7,316.5 634.7,312.8 641,309C647.3,305.2 653.5,300.5 659,296C664.5,291.5 669.7,286.5 674,282C678.3,277.5 681.8,273.2 685,269C688.2,264.8 690.7,260.8 693,257C695.3,253.2 698,247.8 699,246" fill="none"/>
<path d="M333.7,93.7L326,124" stroke="#1a1a1a" stroke-width="1.7" stroke-dasharray="4.2 2.6" fill="none"/>
<circle cx="333.7" cy="93.7" r="3.5" fill="#141414"/><circle cx="326" cy="124" r="3.5" fill="#141414"/>
<circle cx="659.1" cy="174.7" r="3.7" fill="#141414"/>
<text x="119.6" y="60" style="font-family:'Liberation Serif','DejaVu Serif',serif;font-size:26px" fill="#141414">D<tspan style="font-size:19.5px;letter-spacing:0.5px">ATA</tspan> <tspan dx="1.5">S</tspan><tspan style="font-size:19.5px;letter-spacing:1.7px" dx="-1.2">PACE</tspan></text>
<text x="257.8" y="60.3" style="font-family:'DejaVu Math TeX Gyre','DejaVu Sans','DejaVu Serif',serif;font-size:23px;" fill="#141414" textLength="19.4" lengthAdjust="spacingAndGlyphs">ℝ</text>
<text x="277.5" y="49.7" style="font-family:'Liberation Serif','DejaVu Serif',serif;font-size:19px;font-style:italic" fill="#141414" textLength="10.5" lengthAdjust="spacingAndGlyphs">n</text>
<text x="507.5" y="94" style="font-family:'Liberation Serif','DejaVu Serif',serif;font-size:26px" fill="#141414">L<tspan style="font-size:19.5px;letter-spacing:1.4px">ATENT</tspan> <tspan dx="-1">S</tspan><tspan style="font-size:19.5px;letter-spacing:2.1px" dx="-1.2">PACE</tspan></text>
<text x="672.5" y="94.3" style="font-family:'DejaVu Math TeX Gyre','DejaVu Sans','DejaVu Serif',serif;font-size:23px;" fill="#141414" textLength="19.2" lengthAdjust="spacingAndGlyphs">ℝ</text>
<text x="692.5" y="84" style="font-family:'Liberation Serif','DejaVu Serif',serif;font-size:19px;font-style:italic" fill="#141414" textLength="10.5" lengthAdjust="spacingAndGlyphs">k</text>
<text x="381" y="124" style="font-family:'Liberation Serif','DejaVu Serif',serif;font-size:26.5px;" fill="#7f7f7f" textLength="86.5" lengthAdjust="spacingAndGlyphs">encoder</text>
<text x="420.5" y="149.3" style="font-family:'Liberation Serif','DejaVu Serif',serif;font-size:28px;font-style:italic" fill="#7f7f7f">f</text>
<text x="376.4" y="305" style="font-family:'Liberation Serif','DejaVu Serif',serif;font-size:26.5px;" fill="#7f7f7f" textLength="85" lengthAdjust="spacingAndGlyphs">decoder</text>
<text x="412.5" y="280.5" style="font-family:'DejaVu Serif',serif;font-size:21px;font-style:italic" fill="#7f7f7f">g</text>
<text x="385" y="210.6" style="font-family:'DejaVu Serif',serif;font-size:21px;font-style:italic" fill="#1b1b80">g</text>
<text x="402.3" y="212" style="font-family:'DejaVu Math TeX Gyre','DejaVu Sans','DejaVu Serif',serif;font-size:28px;" fill="#1b1b80">∘</text>
<text x="421.4" y="211.5" style="font-family:'Liberation Serif','DejaVu Serif',serif;font-size:28px;font-style:italic" fill="#1b1b80">f</text>
<text x="438" y="213" style="font-family:'Liberation Serif','DejaVu Serif',serif;font-size:26px;" fill="#1b1b80" textLength="14" lengthAdjust="spacingAndGlyphs">≈</text>
<text x="456.6" y="210.6" style="font-family:'Liberation Serif','DejaVu Serif',serif;font-size:25.5px;" fill="#1b1b80" textLength="19.6" lengthAdjust="spacingAndGlyphs">id</text>
<text x="392.5" y="235.5" style="font-family:'Liberation Serif','DejaVu Serif',serif;font-size:19.5px;" fill="#dedeea" textLength="27" lengthAdjust="spacingAndGlyphs">(on</text>
<text x="426" y="235.5" style="font-family:'DejaVu Math TeX Gyre','DejaVu Sans','DejaVu Serif',serif;font-size:17.5px;" fill="#dedeea" textLength="24" lengthAdjust="spacingAndGlyphs">ℳ</text>
<text x="452" y="235.5" style="font-family:'Liberation Serif','DejaVu Serif',serif;font-size:19.5px;" fill="#dedeea">)</text>
<text x="221" y="150.5" style="font-family:'DejaVu Serif',serif;font-size:21px;font-style:italic" fill="#141414" textLength="13" lengthAdjust="spacingAndGlyphs">g</text>
<text x="234.5" y="150.5" style="font-family:'Liberation Serif','DejaVu Serif',serif;font-size:26px;" fill="#141414" textLength="7" lengthAdjust="spacingAndGlyphs">(</text>
<text x="245" y="150.5" style="font-family:'Liberation Serif','DejaVu Serif',serif;font-size:28px;font-style:italic" fill="#141414" textLength="9.1" lengthAdjust="spacingAndGlyphs">f</text>
<text x="260.8" y="150.5" style="font-family:'Liberation Serif','DejaVu Serif',serif;font-size:26px;" fill="#141414" textLength="7" lengthAdjust="spacingAndGlyphs">(</text>
<text x="272" y="150.5" style="font-family:'Liberation Serif','DejaVu Serif',serif;font-size:26px;font-weight:bold" fill="#141414" textLength="15.5" lengthAdjust="spacingAndGlyphs">x</text>
<text x="289" y="150.5" style="font-family:'Liberation Serif','DejaVu Serif',serif;font-size:26px;" fill="#141414" textLength="6.5" lengthAdjust="spacingAndGlyphs">)</text>
<text x="295.5" y="150.5" style="font-family:'Liberation Serif','DejaVu Serif',serif;font-size:26px;" fill="#141414" textLength="6.5" lengthAdjust="spacingAndGlyphs">)</text>
<text x="309.5" y="150.5" style="font-family:'Liberation Serif','DejaVu Serif',serif;font-size:26px;" fill="#141414" textLength="14.5" lengthAdjust="spacingAndGlyphs">=</text>
<text x="328.3" y="150.5" style="font-family:'Liberation Serif','DejaVu Serif',serif;font-size:26px;font-weight:bold" fill="#141414" textLength="14.5" lengthAdjust="spacingAndGlyphs">x</text>
<text x="339" y="99" style="font-family:'Liberation Serif','DejaVu Serif',serif;font-size:25px;font-weight:bold" fill="#141414" textLength="13.5" lengthAdjust="spacingAndGlyphs">x</text>
<text x="178.8" y="258.9" style="font-family:'DejaVu Math TeX Gyre','DejaVu Sans','DejaVu Serif',serif;font-size:22px;" fill="#1b1b80" textLength="30" lengthAdjust="spacingAndGlyphs">ℳ</text>
<text x="213.6" y="258.9" style="font-family:'Liberation Serif','DejaVu Serif',serif;font-size:25px;" fill="#1b1b80" textLength="20.6" lengthAdjust="spacingAndGlyphs">:=</text>
<text x="238.5" y="258.7" style="font-family:'DejaVu Serif',serif;font-size:20.5px;font-style:italic" fill="#1b1b80" textLength="12.5" lengthAdjust="spacingAndGlyphs">g</text>
<text x="253" y="258.7" style="font-family:'Liberation Serif','DejaVu Serif',serif;font-size:25px;" fill="#1b1b80" textLength="7" lengthAdjust="spacingAndGlyphs">(</text>
<text x="262.6" y="258.9" style="font-family:'DejaVu Math TeX Gyre','DejaVu Sans','DejaVu Serif',serif;font-size:22px;" fill="#1b1b80" textLength="17.4" lengthAdjust="spacingAndGlyphs">ℝ</text>
<text x="280.8" y="250" style="font-family:'Liberation Serif','DejaVu Serif',serif;font-size:19px;font-style:italic" fill="#1b1b80" textLength="11" lengthAdjust="spacingAndGlyphs">k</text>
<text x="293" y="258.7" style="font-family:'Liberation Serif','DejaVu Serif',serif;font-size:25px;" fill="#1b1b80" textLength="7.5" lengthAdjust="spacingAndGlyphs">)</text>
<text x="583.4" y="195.3" style="font-family:'Liberation Serif','DejaVu Serif',serif;font-size:29px;font-style:italic" fill="#141414">f</text>
<text x="597.3" y="195.3" style="font-family:'Liberation Serif','DejaVu Serif',serif;font-size:26px;" fill="#141414" textLength="7" lengthAdjust="spacingAndGlyphs">(</text>
<text x="606.7" y="195.3" style="font-family:'Liberation Serif','DejaVu Serif',serif;font-size:26px;font-weight:bold" fill="#141414" textLength="15.3" lengthAdjust="spacingAndGlyphs">x</text>
<text x="623.8" y="195.3" style="font-family:'Liberation Serif','DejaVu Serif',serif;font-size:26px;" fill="#141414" textLength="6.5" lengthAdjust="spacingAndGlyphs">)</text>
<text x="633.6" y="195.3" style="font-family:'Liberation Serif','DejaVu Serif',serif;font-size:26px;" fill="#141414" textLength="15.6" lengthAdjust="spacingAndGlyphs">=</text>
<text x="651.8" y="195.3" style="font-family:'Liberation Serif','DejaVu Serif',serif;font-size:26px;font-weight:bold" fill="#141414" textLength="13" lengthAdjust="spacingAndGlyphs">z</text>
<text x="501.7" y="126.2" style="font-family:'Liberation Sans','DejaVu Sans',sans-serif;font-size:17.5px;" fill="#9c9c9c" textLength="154" lengthAdjust="spacingAndGlyphs">low-density region</text>
<text x="501.7" y="144.8" style="font-family:'Liberation Sans','DejaVu Sans',sans-serif;font-size:14.3px;" fill="#c8c8c8" textLength="94" lengthAdjust="spacingAndGlyphs">(extrapolation)</text>
<text style="font-family:'Liberation Sans','DejaVu Sans',sans-serif;font-size:22px;letter-spacing:2px" fill="#26268a"><textPath href="#tp1" startOffset="10">learned manifold</textPath></text>
<text style="font-family:'Liberation Sans','DejaVu Sans',sans-serif;font-size:19px;letter-spacing:-0.45px" fill="#26268a"><textPath href="#tp2" startOffset="5">high density region</textPath></text>
<text style="font-family:'Liberation Sans','DejaVu Sans',sans-serif;font-size:14.5px;letter-spacing:1.1px" fill="#ababcf"><textPath href="#tp3" startOffset="4.5">(interpolation)</textPath></text>
<text transform="translate(327.7,157.7) scale(1.8,1.45)" x="0" y="0" style="font-family:'Liberation Serif','DejaVu Serif',serif;font-size:26px" fill="#141414">ˆ</text>
</svg>
</body></html>
